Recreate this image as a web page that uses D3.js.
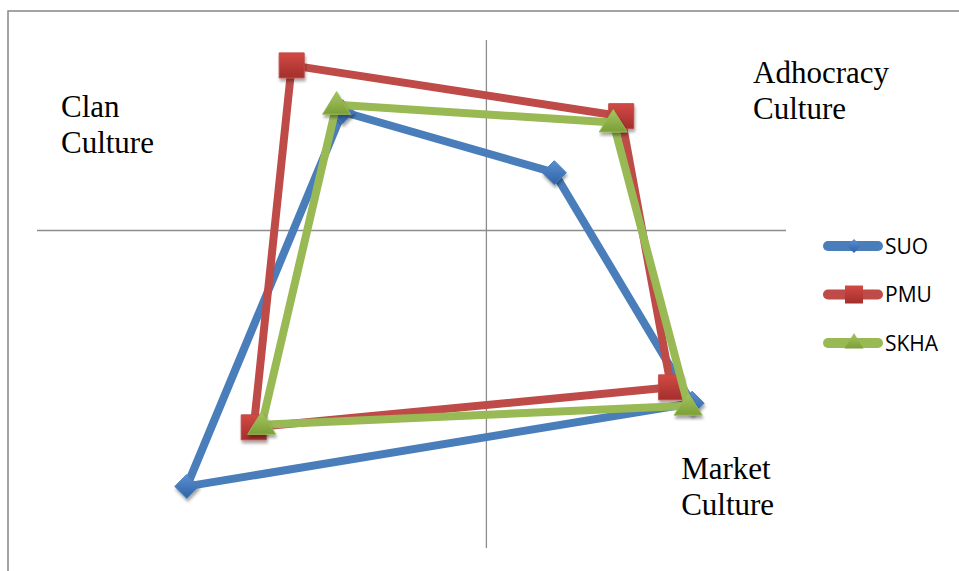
<!DOCTYPE html>
<html>
<head>
<meta charset="utf-8">
<script src="https://d3js.org/d3.v7.min.js"></script>
<style>
  html, body { margin: 0; padding: 0; background: #fff; }
  svg { display: block; }
</style>
</head>
<body>
<div id="chart"></div>
<script>
// Competing values framework - culture profile per organisation
// points run Clan -> Adhocracy -> Market -> Hierarchy, then close back to Clan

var seriesNames = ['SUO', 'PMU', 'SKHA'];
var quadrants = ['Clan', 'Adhocracy', 'Market', 'Hierarchy'];

var suoX = [-14.4, 6.8, 20.6, -30.0];
var suoY = [18.7, 9.1, -27.2, -40.3];
var pmuX = [-19.5, 13.5, 18.5, -23.3];
var pmuY = [26.0, 18.0, -24.7, -31.0];
var skhaX = [-15.0, 12.7, 20.2, -22.5];
var skhaY = [19.8, 17.0, -27.6, -30.6];

var xRange = [-45, 30];
var yRange = [-50, 30];

var quadrantLabels = [
  { lines: ['Clan', 'Culture'], x: -42.6, y: 17.9 },
  { lines: ['Adhocracy', 'Culture'], x: 26.7, y: 23.3 },
  { lines: ['Market', 'Culture'], x: 19.5, y: -39.2 }
];

var width = 959, height = 571;

var colors = {
  SUO:  { line: '#4a7ebb', light: '#5a8fd0', dark: '#2f63a6', shape: 'diamond' },
  PMU:  { line: '#be4b48', light: '#d24a45', dark: '#a32e2b', shape: 'square' },
  SKHA: { line: '#98b954', light: '#a6c760', dark: '#7c9e38', shape: 'triangle' }
};

var x = d3.scaleLinear().domain(xRange).range([37, 786]);
var y = d3.scaleLinear().domain(yRange).range([548, 40]);

var svg = d3.select('#chart').append('svg')
  .attr('width', width)
  .attr('height', height);

var defs = svg.append('defs');
seriesNames.forEach(function(name) {
  var grad = defs.append('linearGradient')
    .attr('id', 'grad-' + name)
    .attr('x1', 0).attr('y1', 0).attr('x2', 0).attr('y2', 1);
  grad.append('stop').attr('offset', '0%').attr('stop-color', colors[name].light);
  grad.append('stop').attr('offset', '100%').attr('stop-color', colors[name].dark);
});
var shadow = defs.append('filter').attr('id', 'shadow')
  .attr('x', '-50%').attr('y', '-50%').attr('width', '200%').attr('height', '200%');
shadow.append('feDropShadow')
  .attr('dx', 1).attr('dy', 3).attr('stdDeviation', 1.6)
  .attr('flood-color', '#000').attr('flood-opacity', 0.35);

// chart frame (cropped on right and bottom)
svg.append('rect')
  .attr('x', 8).attr('y', 11)
  .attr('width', 1000).attr('height', 700)
  .attr('fill', 'none')
  .attr('stroke', '#878787')
  .attr('stroke-width', 1.5);

// axes through the origin
svg.append('line')
  .attr('x1', x(xRange[0])).attr('x2', x(xRange[1]))
  .attr('y1', y(0)).attr('y2', y(0))
  .attr('stroke', '#8c8c8c').attr('stroke-width', 1.3);
svg.append('line')
  .attr('x1', x(0)).attr('x2', x(0))
  .attr('y1', y(yRange[0])).attr('y2', y(yRange[1]))
  .attr('stroke', '#8c8c8c').attr('stroke-width', 1.3);

// quadrant labels
quadrantLabels.forEach(function(q) {
  var t = svg.append('text')
    .attr('x', x(q.x)).attr('y', y(q.y))
    .attr('font-family', '"Liberation Serif", "Times New Roman", serif')
    .attr('font-size', 31)
    .attr('fill', '#000');
  q.lines.forEach(function(l, i) {
    t.append('tspan').attr('x', x(q.x)).attr('dy', i === 0 ? 0 : 36).text(l);
  });
});

function markerPath(shape, s) {
  if (shape === 'diamond') {
    return 'M0,' + (-s) + 'L' + s + ',0L0,' + s + 'L' + (-s) + ',0Z';
  }
  if (shape === 'square') {
    return 'M' + (-s) + ',' + (-s) + 'H' + s + 'V' + s + 'H' + (-s) + 'Z';
  }
  var h = s * 1.05;
  return 'M0,' + (-h) + 'L' + (s * 1.12) + ',' + (h * 0.72) + 'L' + (-s * 1.12) + ',' + (h * 0.72) + 'Z';
}

var data = {
  SUO: d3.zip(suoX, suoY),
  PMU: d3.zip(pmuX, pmuY),
  SKHA: d3.zip(skhaX, skhaY)
};

var line = d3.line()
  .x(function(d) { return x(d[0]); })
  .y(function(d) { return y(d[1]); })
  .curve(d3.curveLinearClosed);

var markerSize = { diamond: 12, square: 12.5, triangle: 12.5 };
var legendMarkerSize = { diamond: 7, square: 9, triangle: 8.5 };

seriesNames.forEach(function(name) {
  var c = colors[name];
  var g = svg.append('g').attr('class', 'series-' + name);
  g.append('path')
    .attr('d', line(data[name]))
    .attr('fill', 'none')
    .attr('stroke', c.line)
    .attr('stroke-width', 8)
    .attr('stroke-linejoin', 'round');
  g.selectAll('path.marker')
    .data(data[name])
    .join('path')
    .attr('class', 'marker')
    .attr('transform', function(d) { return 'translate(' + x(d[0]) + ',' + y(d[1]) + ')'; })
    .attr('d', markerPath(c.shape, markerSize[c.shape]))
    .attr('fill', 'url(#grad-' + name + ')')
    .attr('stroke', c.line)
    .attr('stroke-width', 1)
    .attr('filter', 'url(#shadow)');
});

// legend
var legend = svg.append('g').attr('transform', 'translate(823,246)');
seriesNames.forEach(function(name, i) {
  var c = colors[name];
  var row = legend.append('g').attr('transform', 'translate(0,' + (i * 48.5) + ')');
  row.append('line')
    .attr('x1', 5).attr('x2', 55)
    .attr('stroke', c.line)
    .attr('stroke-width', 10)
    .attr('stroke-linecap', 'round');
  row.append('path')
    .attr('transform', 'translate(31,' + (c.shape === 'triangle' ? -1 : 0) + ')')
    .attr('d', markerPath(c.shape, legendMarkerSize[c.shape]))
    .attr('fill', 'url(#grad-' + name + ')');
  row.append('text')
    .attr('x', 62).attr('y', 0).attr('dy', '0.36em')
    .attr('font-family', '"Open Sans", "Noto Sans", sans-serif')
    .attr('font-size', 21)
    .attr('fill', '#000')
    .text(name);
});
</script>
</body>
</html>
